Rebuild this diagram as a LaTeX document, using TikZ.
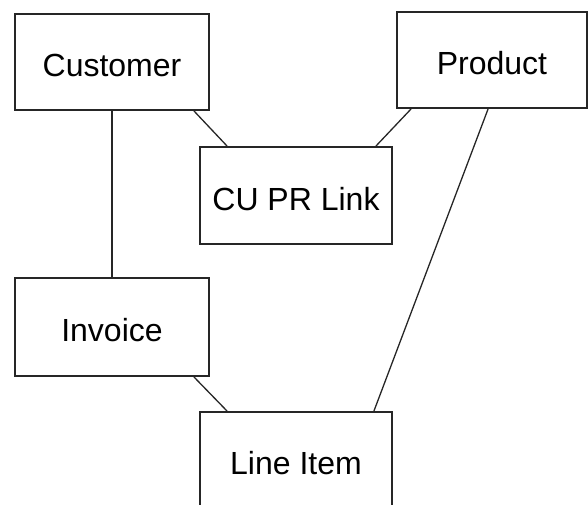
\documentclass[tikz,border=0pt]{standalone}
\usepackage{fontspec}
\setmainfont{Liberation Sans}
\begin{document}
\begin{tikzpicture}[x=1pt,y=-1pt,
  entity/.style={draw=black!85,line width=1.8pt,fill=white,inner sep=0pt,
    text height=29pt,text depth=0pt,
    font=\fontsize{32}{38}\selectfont},
  rel/.style={draw=black!85,line width=1.3pt}]
\useasboundingbox (0,0) rectangle (588,505);
\clip (0,0) rectangle (588,505);
\node[entity,minimum width=194pt,minimum height=96pt] (cust) at (112,62) {Customer};
\node[entity,minimum width=190pt,minimum height=96pt] (prod) at (492,60) {Product};
\node[entity,minimum width=192pt,minimum height=97pt] (link) at (296,195.5) {CU PR Link};
\node[entity,minimum width=194pt,minimum height=98pt] (inv) at (112,327) {Invoice};
\node[entity,minimum width=192pt,minimum height=96pt] (item) at (296,460) {Line Item};
\draw[rel] (cust.south) -- (inv.north);
\draw[rel] ([xshift=-16pt]cust.south east) -- ([xshift=28pt]link.north west);
\draw[rel] ([xshift=15pt]prod.south west) -- ([xshift=-17pt]link.north east);
\draw[rel] ([xshift=92pt]prod.south west) -- ([xshift=-19pt]item.north east);
\draw[rel] ([xshift=-16pt]inv.south east) -- ([xshift=28pt]item.north west);
\end{tikzpicture}
\end{document}
